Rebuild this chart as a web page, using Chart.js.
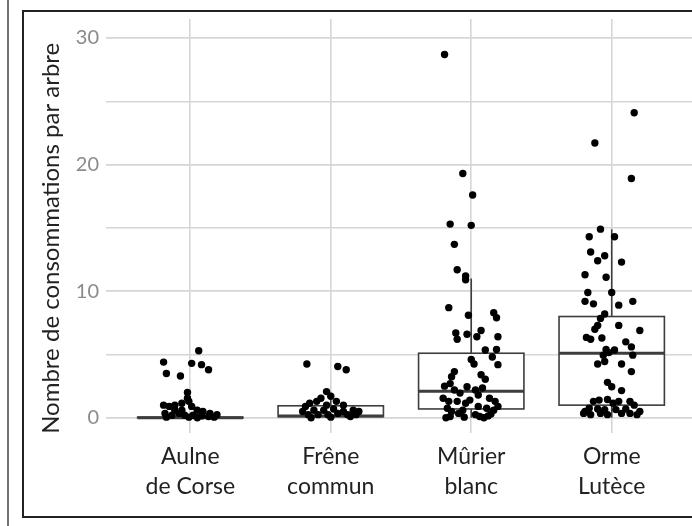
<!DOCTYPE html>
<html>
<head>
<meta charset="utf-8">
<script src="https://cdn.jsdelivr.net/npm/chart.js@4"></script>
<style>
	html, body { margin: 0; padding: 0; background: #fff; overflow: hidden; }
	#wrap { position: relative; width: 700px; height: 526px; }
</style>
</head>
<body>
<div id="wrap"><canvas id="myChart" width="700" height="526"></canvas></div>
<script>
const categories = [['Aulne', 'de Corse'], ['Frêne', 'commun'], ['Mûrier', 'blanc'], ['Orme', 'Lutèce']];
const yTicks = [0, 5, 10, 15, 20, 25, 30];

// box plot summaries, one per category
const q1 = [0, 0.1, 0.7, 1.0];
const median = [0, 0.15, 2.1, 5.1];
const q3 = [0.05, 0.95, 5.1, 8.0];
const whiskerLow = [0, 0, 0, 0];
const whiskerHigh = [0.1, 2.0, 11.0, 14.9];

// jittered points: [offset from category centre, value]
const aulnePoints = [
	[-0.19, 4.4], [0.06, 5.3], [0.01, 4.3], [0.08, 4.2], [0.13, 3.8], [-0.17, 3.5], [-0.07, 3.3], [-0.02, 2.0],
	[-0.19, 1.0], [-0.15, 0.9], [-0.11, 1.0], [-0.06, 1.15], [-0.01, 1.3], [-0.02, 1.55], [0.01, 0.9], [0.05, 0.6],
	[0.09, 0.5], [0.14, 0.35], [0.19, 0.25], [-0.18, 0.35], [-0.13, 0.2], [-0.08, 0.35], [-0.04, 0.2], [0.02, 0.2],
	[0.08, 0.15], [0.13, 0.1], [-0.11, 0.6], [-0.06, 0.6], [-0.17, 0.05], [-0.01, 0.05], [0.17, 0.05], [0.05, 0.0]
];
const frenePoints = [
	[-0.17, 4.25], [0.05, 4.05], [0.11, 3.8], [-0.03, 2.07], [0.0, 1.7], [-0.07, 1.55], [-0.1, 1.3], [-0.15, 1.15],
	[0.04, 1.3], [0.09, 1.0], [-0.18, 0.9], [-0.03, 1.0], [0.16, 0.6], [0.2, 0.5], [-0.2, 0.5], [-0.12, 0.6],
	[-0.05, 0.6], [0.02, 0.7], [0.09, 0.5], [-0.16, 0.25], [-0.09, 0.25], [-0.02, 0.25], [0.05, 0.35], [0.12, 0.25],
	[0.18, 0.25], [-0.14, 0.0], [0.0, 0.05], [0.14, 0.1]
];
const murierPoints = [
	[-0.19, 28.7], [-0.06, 19.3], [0.01, 17.6], [-0.15, 15.3], [0.0, 15.2], [-0.12, 13.7], [-0.10, 11.7], [-0.04, 11.2],
	[-0.04, 10.9], [-0.16, 8.7], [-0.02, 8.1], [0.16, 8.3], [0.18, 7.9], [-0.11, 6.7], [-0.10, 6.2], [-0.03, 6.6],
	[0.07, 6.9], [0.04, 6.4], [0.19, 6.4], [0.18, 5.4], [0.10, 5.35], [0.15, 4.8], [0.19, 4.2], [0.0, 4.6],
	[0.02, 4.25], [-0.12, 3.65], [-0.14, 3.25], [0.07, 3.4], [0.10, 3.05], [-0.19, 2.5], [-0.15, 2.7], [-0.12, 2.2],
	[-0.08, 1.95], [-0.03, 2.45], [0.03, 2.2], [0.05, 1.8], [0.08, 2.35], [0.13, 1.55], [0.17, 1.3], [-0.20, 1.55],
	[-0.16, 1.3], [-0.10, 1.3], [-0.04, 1.15], [-0.01, 1.4], [0.05, 0.9], [0.11, 0.75], [0.16, 0.6], [-0.17, 0.75],
	[-0.14, 0.5], [-0.09, 0.35], [0.03, 0.25], [0.06, 0.1], [-0.15, 0.1], [0.19, 0.9], [0.12, 0.15], [-0.06, 0.6],
	[-0.18, 0.0], [0.09, 0.0], [-0.05, 0.05], [0.14, 0.3]
];
const ormePoints = [
	[0.16, 24.1], [-0.12, 21.7], [0.14, 18.9], [-0.08, 14.9], [-0.16, 14.3], [0.02, 14.3], [-0.15, 13.1], [-0.10, 12.4],
	[-0.05, 12.8], [0.07, 12.3], [-0.19, 11.3], [-0.04, 11.1], [-0.17, 9.9], [0.0, 9.9], [-0.19, 9.2], [-0.13, 9.0],
	[0.05, 8.9], [0.15, 9.2], [-0.05, 8.2], [-0.08, 7.85], [-0.10, 7.3], [-0.12, 7.0], [0.05, 7.3], [0.20, 6.9],
	[-0.18, 6.35], [-0.15, 6.2], [-0.07, 6.3], [0.10, 6.0], [0.14, 5.6], [-0.04, 5.4], [-0.02, 5.15], [0.02, 5.35],
	[-0.06, 4.95], [0.15, 4.95], [-0.10, 4.25], [-0.05, 4.45], [0.07, 4.25], [0.14, 3.65], [-0.03, 2.8], [0.0, 2.45],
	[0.07, 2.15], [-0.13, 1.3], [-0.09, 1.4], [-0.03, 1.45], [0.01, 1.15], [0.05, 1.3], [0.13, 1.3], [0.16, 1.0],
	[-0.16, 0.75], [-0.10, 0.7], [-0.05, 0.65], [0.03, 0.65], [0.10, 0.7], [-0.19, 0.5], [-0.2, 0.35], [-0.15, 0.25],
	[-0.03, 0.25], [0.07, 0.35], [0.18, 0.25], [0.2, 0.5], [-0.08, 0.35], [0.13, 0.35]
];

const groups = [aulnePoints, frenePoints, murierPoints, ormePoints];
const points = [];
groups.forEach((g, i) => g.forEach(p => points.push({ x: i + p[0], y: p[1] })));

// draws boxes + whiskers under the points
const boxPlugin = {
	id: 'boxes',
	beforeDatasetsDraw(chart) {
		const ctx = chart.ctx;
		const x = chart.scales.x;
		const y = chart.scales.y;
		ctx.save();
		ctx.strokeStyle = '#3d3d3d';
		for (let i = 0; i < categories.length; i++) {
			const left = x.getPixelForValue(i - 0.375);
			const right = x.getPixelForValue(i + 0.375);
			const mid = x.getPixelForValue(i);
			ctx.lineWidth = 1.6;
			ctx.beginPath();
			ctx.moveTo(mid, y.getPixelForValue(q3[i]));
			ctx.lineTo(mid, y.getPixelForValue(whiskerHigh[i]));
			ctx.moveTo(mid, y.getPixelForValue(q1[i]));
			ctx.lineTo(mid, y.getPixelForValue(whiskerLow[i]));
			ctx.stroke();
			const top = y.getPixelForValue(q3[i]);
			const bottom = y.getPixelForValue(q1[i]);
			ctx.fillStyle = '#fff';
			ctx.fillRect(left, top, right - left, bottom - top);
			ctx.strokeRect(left, top, right - left, bottom - top);
			ctx.lineWidth = 3;
			ctx.beginPath();
			ctx.moveTo(left, y.getPixelForValue(median[i]));
			ctx.lineTo(right, y.getPixelForValue(median[i]));
			ctx.stroke();
		}
		ctx.restore();
	}
};

const framePlugin = {
	id: 'frame',
	afterDraw(chart) {
		const ctx = chart.ctx;
		ctx.save();
		ctx.strokeStyle = '#444';
		ctx.lineWidth = 1.5;
		ctx.beginPath();
		ctx.moveTo(8, 0);
		ctx.lineTo(8, 526);
		ctx.stroke();
		ctx.strokeStyle = '#222';
		ctx.lineWidth = 2;
		ctx.strokeRect(23, 11, 800, 506);
		ctx.restore();
	}
};

new Chart('myChart', {
	type: 'scatter',
	data: {
		datasets: [
			{
				data: points,
				backgroundColor: '#000',
				borderWidth: 0,
				pointRadius: 3.7,
			},
		],
	},
	options: {
		responsive: false,
		animation: false,
		layout: { padding: { top: 18, left: 0, right: 0, bottom: 0 } },
		plugins: { legend: { display: false }, tooltip: { enabled: false } },
		scales: {
			x: {
				type: 'linear',
				min: -0.6,
				max: 3.6,
				afterBuildTicks: s => { s.ticks = [0, 1, 2, 3].map(v => ({ value: v })); },
				afterFit: s => { s.height = 93; },
				ticks: {
					callback: v => categories[v],
					color: '#222',
					font: { family: 'Lato', size: 23, lineHeight: 1.3 },
					padding: 9,
					maxRotation: 0,
				},
				grid: { color: '#d6d6d6', lineWidth: 1.6, drawTicks: false, tickLength: 0 },
				border: { display: false },
			},
			y: {
				min: -1.2,
				max: 31.5,
				afterBuildTicks: s => { s.ticks = yTicks.map(v => ({ value: v })); },
				afterFit: s => { s.width = 106; },
				ticks: {
					callback: v => (v % 10 === 0 ? v : ''),
					color: '#8a8a8a',
					font: { family: 'Lato', size: 20 },
					padding: 7,
				},
				grid: {
					color: '#d6d6d6',
					lineWidth: c => (c.tick && c.tick.value % 10 === 0 ? 1.7 : 1.4),
					drawTicks: false,
					tickLength: 0,
				},
				border: { display: false },
				title: {
					display: true,
					text: 'Nombre de consommations par arbre\u00a0\u00a0\u00a0\u00a0',
					color: '#222',
					font: { family: 'Lato', size: 24 },
					padding: { top: 37, bottom: 0 },
				},
			},
		},
	},
	plugins: [boxPlugin, framePlugin],
});
</script>
</body>
</html>
